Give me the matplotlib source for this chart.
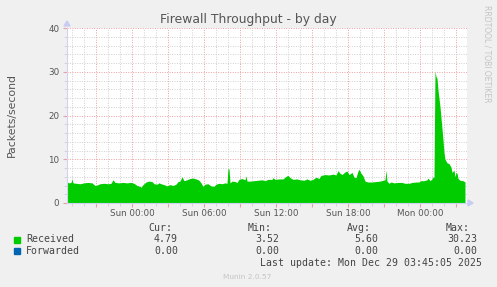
import matplotlib
matplotlib.use("Agg")
import matplotlib.pyplot as plt
from matplotlib.ticker import MultipleLocator, FuncFormatter
from matplotlib.patches import Rectangle

# minutes since Sun 00:00 and packets/second (Received)
minutes = [-325, -315, -305, -300, -295, -280, -260, -240, -220, -200, -185, -175,
           -160, -140, -120, -105, -95, -85, -65, -45, -25, -5, 10, 25, 40, 45, 55,
           70, 85, 100, 110, 125, 135, 145, 160, 175, 190, 205, 220, 230, 240, 250,
           260, 275, 290, 305, 320, 335, 345, 355, 365, 380, 395, 410, 420, 435,
           450, 465, 475, 480, 485, 490, 500, 515, 525, 535, 550, 565, 570, 575,
           590, 610, 630, 650, 665, 680, 700, 705, 715, 735, 755, 770, 780, 790,
           805, 825, 840, 860, 875, 890, 905, 920, 935, 945, 965, 985, 1005, 1020,
           1030, 1040, 1050, 1065, 1075, 1085, 1095, 1100, 1110, 1120, 1130, 1135,
           1145, 1155, 1165, 1180, 1200, 1220, 1240, 1255, 1265, 1270, 1275, 1285,
           1295, 1310, 1330, 1350, 1365, 1385, 1400, 1420, 1435, 1445, 1460, 1475,
           1480, 1490, 1500, 1505, 1510, 1515, 1520, 1525, 1530, 1540, 1545, 1550,
           1555, 1560, 1565, 1575, 1585, 1595, 1600, 1610, 1615, 1620, 1625, 1630,
           1640, 1655, 1665]
received = [4.8, 4.6, 4.7, 5.5, 4.6, 4.5, 4.4, 4.6, 4.7, 4.6, 4.0, 4.1,
            4.4, 4.5, 4.4, 4.5, 5.3, 4.7, 4.6, 4.7, 4.6, 4.7, 4.5, 4.0, 3.8, 3.6, 4.2,
            4.8, 5.0, 4.9, 4.4, 4.3, 4.6, 4.4, 4.2, 3.9, 4.2, 4.0, 4.3, 4.9, 5.0, 6.0,
            5.1, 5.3, 5.6, 5.7, 5.5, 5.2, 4.6, 3.8, 4.3, 4.4, 3.9, 3.8, 4.3, 4.5,
            4.4, 4.6, 4.5, 7.9, 7.8, 4.6, 5.0, 4.9, 4.7, 5.4, 5.6, 5.3, 6.2, 5.0,
            5.0, 5.1, 5.2, 5.3, 5.1, 5.4, 5.4, 5.8, 5.4, 5.5, 5.5, 6.1, 6.3, 5.8,
            5.4, 5.5, 5.3, 5.2, 5.5, 5.2, 5.4, 5.9, 5.6, 6.3, 6.5, 6.4, 6.6, 6.4,
            7.4, 6.8, 6.5, 7.1, 7.3, 6.5, 6.8, 7.0, 5.9, 5.8, 7.3, 7.7,
            6.8, 6.2, 5.0, 4.8, 4.8, 4.9, 5.0, 5.2, 5.3, 7.5, 5.0, 4.5,
            4.8, 4.6, 4.7, 4.7, 4.5, 4.5, 4.7, 4.8, 4.8, 5.1, 5.1, 5.3,
            5.7, 5.1, 5.5, 6.0, 5.8, 30.2, 28.9, 28.5, 25.8, 22.0, 19.5, 17.0,
            14.4, 11.5, 10.0, 9.2, 9.0, 8.2, 7.0, 7.5, 6.0, 7.0, 6.8, 5.6,
            5.2, 5.1, 4.8]
forwarded = [0.0] * len(minutes)

series_names = ["Received", "Forwarded"]
series_colors = ["#00cc00", "#0066b3"]
cur_vals = ["4.79", "0.00"]
min_vals = ["3.52", "0.00"]
avg_vals = ["5.60", "0.00"]
max_vals = ["30.23", "0.00"]

W, H = 497, 287
fig = plt.figure(figsize=(W / 100, H / 100), dpi=100, facecolor="#f0f0f0")


def fx(x):
    return x / W


def fy(y):
    return 1 - y / H


ax = fig.add_axes([fx(67), fy(203), 400 / W, 175 / H])
ax.set_facecolor("white")

ax.fill_between(minutes, received, 0, color=series_colors[0], lw=0, zorder=2)
ax.fill_between(minutes, forwarded, 0, color=series_colors[1], lw=0, zorder=2)

ax.set_xlim(-325, 1675)
ax.set_ylim(0, 40)

days = ["Sun", "Mon"]


def fmt(m, pos):
    if m % 360 != 0 or m < 0:
        return ""
    return "%s %02d:00" % (days[int(m // 1440)], (m // 60) % 24)


ax.xaxis.set_major_locator(MultipleLocator(180))
ax.xaxis.set_minor_locator(MultipleLocator(60))
ax.xaxis.set_major_formatter(FuncFormatter(fmt))
ax.yaxis.set_major_locator(MultipleLocator(10))
ax.yaxis.set_minor_locator(MultipleLocator(2))

ax.grid(which="minor", color="#cfcfcf", ls=(0, (1, 1.5)), lw=0.7, zorder=1)
ax.grid(which="major", color="#eca0a0", ls=(0, (1, 1.5)), lw=0.7, zorder=1)

ax.tick_params(which="both", colors="#555555", labelsize=6.3)
ax.tick_params(axis="x", pad=1.5)
ax.tick_params(axis="y", pad=2.5)
ax.tick_params(which="major", length=3, color="#eca0a0")
ax.tick_params(which="minor", length=2, color="#cfcfcf")

for s in ["top", "right"]:
    ax.spines[s].set_visible(False)
for s in ["left", "bottom"]:
    ax.spines[s].set_color("#d0d4f4")
    ax.spines[s].set_linewidth(0.8)

# axis arrows
fig.patches.append(plt.Polygon([[fx(64), fy(26)], [fx(70), fy(26)], [fx(67), fy(21)]],
                               closed=True, color="#c8ccf4", transform=fig.transFigure))
fig.patches.append(plt.Polygon([[fx(468), fy(200)], [fx(468), fy(206)], [fx(473), fy(203)]],
                               closed=True, color="#c8ccf4", transform=fig.transFigure))

fig.text(fx(248), fy(19), "Firewall Throughput - by day", ha="center", va="center",
         fontsize=8.9, color="#555555")
fig.text(fx(12), fy(115), "Packets/second", ha="center", va="center", rotation=90,
         fontsize=7.8, color="#555555")
fig.text(fx(487), fy(54), "RRDTOOL / TOBI OETIKER", ha="center", va="center",
         rotation=270, fontsize=5.5, color="#c4c4c4")

mono = "DejaVu Sans Mono"
lfs = 7.1
tc = "#444444"
fig.text(fx(172), fy(228), "Cur:", ha="right", va="center", family=mono, fontsize=lfs, color=tc)
fig.text(fx(272), fy(228), "Min:", ha="right", va="center", family=mono, fontsize=lfs, color=tc)
fig.text(fx(371), fy(228), "Avg:", ha="right", va="center", family=mono, fontsize=lfs, color=tc)
fig.text(fx(470), fy(228), "Max:", ha="right", va="center", family=mono, fontsize=lfs, color=tc)

rows = [239.5, 251]
for i, name in enumerate(series_names):
    y = rows[i]
    fig.patches.append(Rectangle((fx(14), fy(y + 3)), 6 / W, 6 / H, color=series_colors[i],
                                 transform=fig.transFigure))
    fig.text(fx(26), fy(y), name, ha="left", va="center", family=mono, fontsize=lfs, color=tc)
    fig.text(fx(178), fy(y), cur_vals[i], ha="right", va="center", family=mono, fontsize=lfs, color=tc)
    fig.text(fx(279), fy(y), min_vals[i], ha="right", va="center", family=mono, fontsize=lfs, color=tc)
    fig.text(fx(378), fy(y), avg_vals[i], ha="right", va="center", family=mono, fontsize=lfs, color=tc)
    fig.text(fx(477), fy(y), max_vals[i], ha="right", va="center", family=mono, fontsize=lfs, color=tc)

fig.text(fx(482), fy(263.5), "Last update: Mon Dec 29 03:45:05 2025", ha="right", va="center",
         family=mono, fontsize=lfs, color=tc)
fig.text(fx(247), fy(277), "Munin 2.0.57", ha="center", va="center", fontsize=5.3, color="#c4c4c4")

fig.savefig("out.png", dpi=100, facecolor=fig.get_facecolor())
